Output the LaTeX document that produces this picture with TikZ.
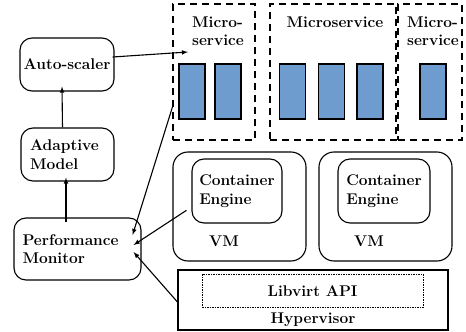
\documentclass[tikz,border=0pt]{standalone}
\usetikzlibrary{arrows,positioning}
\definecolor{ctrblue}{RGB}{110,156,206}
\tikzset{
  lbl/.style={font=\fontsize{15.5}{18.5}\selectfont\bfseries, align=left, inner sep=0pt},
  rbox/.style={draw, line width=1.1pt, rounded corners=12pt, inner sep=0pt, font=\fontsize{15.5}{18.5}\selectfont\bfseries, align=left},
  msbox/.style={draw, line width=1.1pt, dash pattern=on 7pt off 5pt, inner sep=0pt},
  ctr/.style={draw, line width=1.1pt, fill=ctrblue, minimum width=26pt, minimum height=55pt, inner sep=0pt},
}
\begin{document}
\begin{tikzpicture}[x=1pt,y=-1pt,>=latex,line width=1.1pt]
  \useasboundingbox (0,0) rectangle (466,332); %Fix picture size

  \node[rbox, minimum width=94pt, minimum height=53pt] (scaler) at (67,64.5) {Auto-scaler}; %Auto-scaler
  \node[rbox, minimum width=93pt, minimum height=53pt, text width=75pt] (model) at (67.5,154.5) {Adaptive\\Model}; %Adaptive model
  \node[rbox, minimum width=127pt, minimum height=62pt, text width=110pt] (monitor) at (77.5,249) {Performance\\Monitor}; %Monitor

  \node[msbox, minimum width=82pt, minimum height=136pt] (ms1) at (214,72) {}; %Microservice 1
  \node[msbox, minimum width=126pt, minimum height=136pt] (ms2) at (333,72) {}; %Microservice 2
  \node[msbox, minimum width=64pt, minimum height=136pt] (ms3) at (430,72) {}; %Microservice 3
  \node[lbl] (ms1lbl) at (218,31) {Micro-\\service}; %Label microservice 1
  \node[lbl] (ms2lbl) at (335,22) {Microservice};   %Label microservice 2
  \node[lbl] (ms3lbl) at (433,31) {Micro-\\service}; %Label microservice 3

  \node[ctr] (c11) at (192,91.5) {}; %Container
  \node[ctr] (c12) at (228,91.5) {}; %Container
  \node[ctr] (c21) at (292.5,91.5) {}; %Container
  \node[ctr] (c22) at (331.5,91.5) {}; %Container
  \node[ctr] (c23) at (370,91.5) {}; %Container
  \node[ctr] (c31) at (433,91.5) {}; %Container

  \node[rbox, rounded corners=15pt, minimum width=133pt, minimum height=109pt] (vm1) at (239.5,206.5) {}; %VM 1
  \node[rbox, rounded corners=15pt, minimum width=133pt, minimum height=109pt] (vm2) at (385.5,206.5) {}; %VM 2
  \node[rbox, minimum width=90pt, minimum height=64pt] (ce1) at (237,191) {Container\\Engine}; %Engine 1
  \node[rbox, minimum width=92pt, minimum height=64pt] (ce2) at (384,191) {Container\\Engine}; %Engine 2
  \node[lbl] (vm1lbl) at (224,241) {VM}; %Label VM 1
  \node[lbl] (vm2lbl) at (369,241) {VM}; %Label VM 2

  \node[draw, minimum width=270pt, minimum height=60pt, inner sep=0pt] (hyp) at (313,300) {}; %Hypervisor
  \node[draw, line width=0.8pt, dash pattern=on 1.5pt off 1pt, minimum width=221pt, minimum height=33pt, inner sep=0pt] (libvirt) at (312.5,290.5) {}; %Libvirt API
  \node[lbl] (libvirtlbl) at (312.5,291) {Libvirt API}; %Label Libvirt
  \node[lbl] (hyplbl) at (313,320) {Hypervisor};   %Label hypervisor

  \coordinate (ms1in) at (188,52);
  \draw[->] ([xshift=-2pt,yshift=7.5pt]scaler.east) -- (ms1in); %Scale microservice
  \draw[->] ([xshift=-5pt]model.north) -- ([xshift=-5pt,yshift=5pt]scaler.south); %Model to scaler
  \draw[->] ([xshift=-11.5pt,yshift=-5pt]monitor.north) -- ([xshift=-1.5pt,yshift=4pt]model.south); %Monitor to model
  \draw[->] ([yshift=-35pt]ms1.west) -- ([xshift=-9pt,yshift=14pt]monitor.east); %Microservice metrics
  \draw[->] ([xshift=-5pt]ce1.203) -- ([xshift=-8pt,yshift=4pt]monitor.east); %Engine metrics
  \draw[->] ([yshift=-2pt]hyp.west) -- ([xshift=-8pt,yshift=-3pt]monitor.east); %Hypervisor metrics
\end{tikzpicture}
\end{document}
